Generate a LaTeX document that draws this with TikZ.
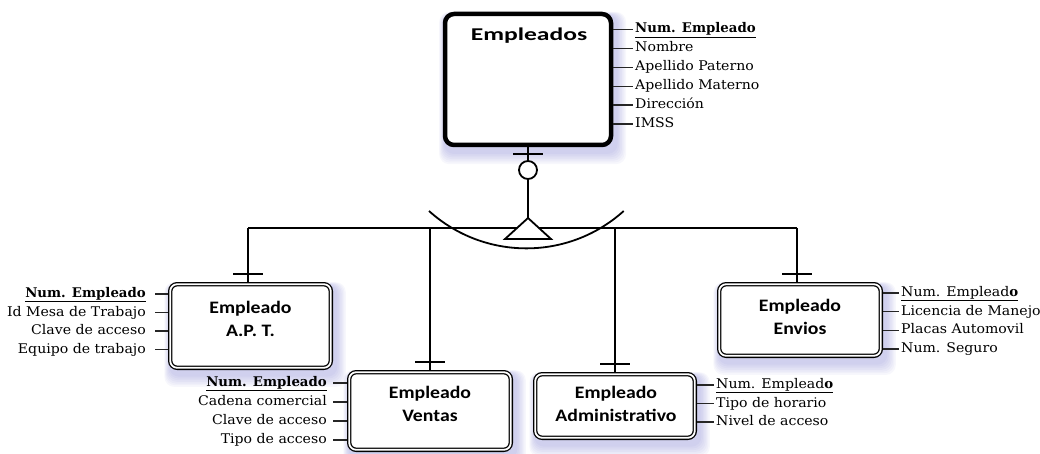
\documentclass[tikz,border=0pt]{standalone}
\usepackage{fontspec}
\newfontfamily\attrfont[FakeStretch=1.06, BoldFeatures={FakeStretch=1.0}]{DejaVu Serif}
\newfontfamily\ttlfont[FakeStretch=1.42]{Carlito}
\newfontfamily\subfont[FakeStretch=1.13]{Carlito}
\definecolor{glowc}{RGB}{120,120,205}
\pgfdeclarelayer{bg}
\pgfsetlayers{bg,main}
\newcommand\glowbox[1]{%
  \foreach \s in {1,...,7}{%
    \fill[glowc, opacity=0.06, rounded corners=10pt]
      ([xshift={(2-0.8*\s)*1pt}, yshift={(-3+0.4*\s)*1pt}]#1.north west) rectangle
      ([xshift={(3+1.4*\s)*1pt}, yshift={(-5-1.7*\s)*1pt}]#1.south east);
  }}
\begin{document}
\begin{tikzpicture}[x=1pt,y=-1pt,
  conn/.style={line width=1.8pt},
  attrline/.style={line width=1.3pt, draw=black!85},
  attr/.style={font=\attrfont\fontsize{13.3}{16}\selectfont, inner sep=0pt, text height=10pt, text depth=3pt},
  bigbox/.style={draw, line width=4.5pt, rounded corners=9pt, fill=white, inner sep=0pt},
  subbox/.style={draw, line width=1.3pt, double=white, double distance=1.8pt, rounded corners=7pt, fill=white, inner sep=0pt, outer sep=2.2pt},
  ttl/.style={font=\ttlfont\bfseries\fontsize{18}{20}\selectfont, inner sep=0pt},
  subttl/.style={font=\subfont\bfseries\fontsize{17.5}{22.8}\selectfont, inner sep=0pt, align=center, anchor=north},
]
\useasboundingbox (0,0) rectangle (1040,454);

% ---------- supertype ----------
\node[bigbox, minimum width=166pt, minimum height=131pt] (emp) at (528,79.5) {};
\node[ttl, anchor=base] (empT) at (529,40.7) {Empleados};

\node[attr, anchor=base west] (e1) at (635,33)    {\textbf{\underline{Num. Empleado}}};
\node[attr, anchor=base west] (e2) at (635,51.9)  {Nombre};
\node[attr, anchor=base west] (e3) at (635,70.8)  {Apellido Paterno};
\node[attr, anchor=base west] (e4) at (635,89.7)  {Apellido Materno};
\node[attr, anchor=base west] (e5) at (635,108.6) {Dirección};
\node[attr, anchor=base west] (e6) at (635,127.5) {IMSS};
\foreach \n in {e1,e2,e3,e4,e5,e6}
  \draw[attrline] (emp.east |- \n.west) -- ([xshift=-2pt]\n.west);

% ---------- specialisation symbol ----------
\draw[conn] ([xshift=-15pt,yshift=-7pt]emp.south) -- ++(30,0);
\node[circle, draw, line width=1.8pt, minimum size=18pt, inner sep=0pt, fill=white] (circ) at (528,170) {};
\draw[conn] (emp.south) -- (circ.north);
\coordinate (apex) at (528,218);
\coordinate (bl) at (505,239);
\coordinate (br) at (551,239);
\draw[conn] (circ.south) -- (apex);
\draw[conn] (429,211) arc[start angle=132, end angle=48, radius=145.5];

\coordinate (h1) at (248,228);
\coordinate (h2) at (430,228);
\coordinate (h3) at (615,228);
\coordinate (h4) at (797,228);
\draw[conn] (h1) -- (h4);
\draw[conn, fill=white, line join=miter] (apex) -- (br) -- (bl) -- cycle;

% ---------- subtypes ----------
\node[subbox, minimum width=160.6pt, minimum height=83.6pt] (apt) at (250.5,326) {};
\node[subbox, minimum width=161.6pt, minimum height=77.6pt] (ven) at (430,411) {};
\node[subbox, minimum width=159.6pt, minimum height=63.6pt] (adm) at (615,406) {};
\node[subbox, minimum width=161.6pt, minimum height=71.6pt] (env) at (800,320) {};

\node[subttl] (aptT) at (250.5,300.8) {Empleado\\A.P. T.};
\node[subttl] (venT) at (430,386.5) {Empleado\\Ventas};
\node[subttl] (admT) at (616,385.8) {Empleado\\Administrativo};
\node[subttl] (envT) at (800,299.2) {Empleado\\Envios};

\path (h1 |- apt.north) coordinate (t1);
\path (h2 |- ven.north) coordinate (t2);
\path (h3 |- adm.north) coordinate (t3);
\path (h4 |- env.north) coordinate (t4);
\foreach \h/\t in {h1/t1,h2/t2,h3/t3,h4/t4}{
  \draw[conn] (\h) -- (\t);
  \draw[conn] ([xshift=-15pt,yshift=8pt]\t) -- ++(30,0);
}

% ---------- attributes: A.P.T. ----------
\node[attr, anchor=base east] (a1) at (146,297.5) {\textbf{\underline{Num. Empleado}}};
\node[attr, anchor=base east] (a2) at (146,316)   {Id Mesa de Trabajo};
\node[attr, anchor=base east] (a3) at (146,334.5) {Clave de acceso};
\node[attr, anchor=base east] (a4) at (146,353)   {Equipo de trabajo};
\foreach \n in {a1,a2,a3,a4}
  \draw[attrline] ([xshift=9pt]\n.east) -- (apt.west |- \n.east);

% ---------- attributes: Ventas ----------
\node[attr, anchor=base east] (v1) at (327,386.5) {\textbf{\underline{Num. Empleado}}};
\node[attr, anchor=base east] (v2) at (327,405.5) {Cadena comercial};
\node[attr, anchor=base east] (v3) at (327,424.5) {Clave de acceso};
\node[attr, anchor=base east] (v4) at (327,443.5) {Tipo de acceso};
\foreach \n in {v1,v2,v3,v4}
  \draw[attrline] ([xshift=6pt]\n.east) -- (ven.west |- \n.east);

% ---------- attributes: Administrativo ----------
\node[attr, anchor=base west] (d1) at (716,388.5) {\underline{Num. Emplead\textbf{o}}};
\node[attr, anchor=base west] (d2) at (716,407)   {Tipo de horario};
\node[attr, anchor=base west] (d3) at (716,425.5) {Nivel de acceso};
\foreach \n in {d1,d2,d3}
  \draw[attrline] (adm.east |- \n.west) -- ([xshift=-2pt]\n.west);

% ---------- attributes: Envios ----------
\node[attr, anchor=base west] (n1) at (901,296.5) {\underline{Num. Emplead\textbf{o}}};
\node[attr, anchor=base west] (n2) at (901,315.2) {Licencia de Manejo};
\node[attr, anchor=base west] (n3) at (901,333.9) {Placas Automovil};
\node[attr, anchor=base west] (n4) at (901,352.6) {Num. Seguro};
\foreach \n in {n1,n2,n3,n4}
  \draw[attrline] (env.east |- \n.west) -- ([xshift=-2pt]\n.west);

% ---------- glow ----------
\begin{pgfonlayer}{bg}
  \glowbox{emp}
  \glowbox{apt}
  \glowbox{ven}
  \glowbox{adm}
  \glowbox{env}
\end{pgfonlayer}
\end{tikzpicture}
\end{document}
